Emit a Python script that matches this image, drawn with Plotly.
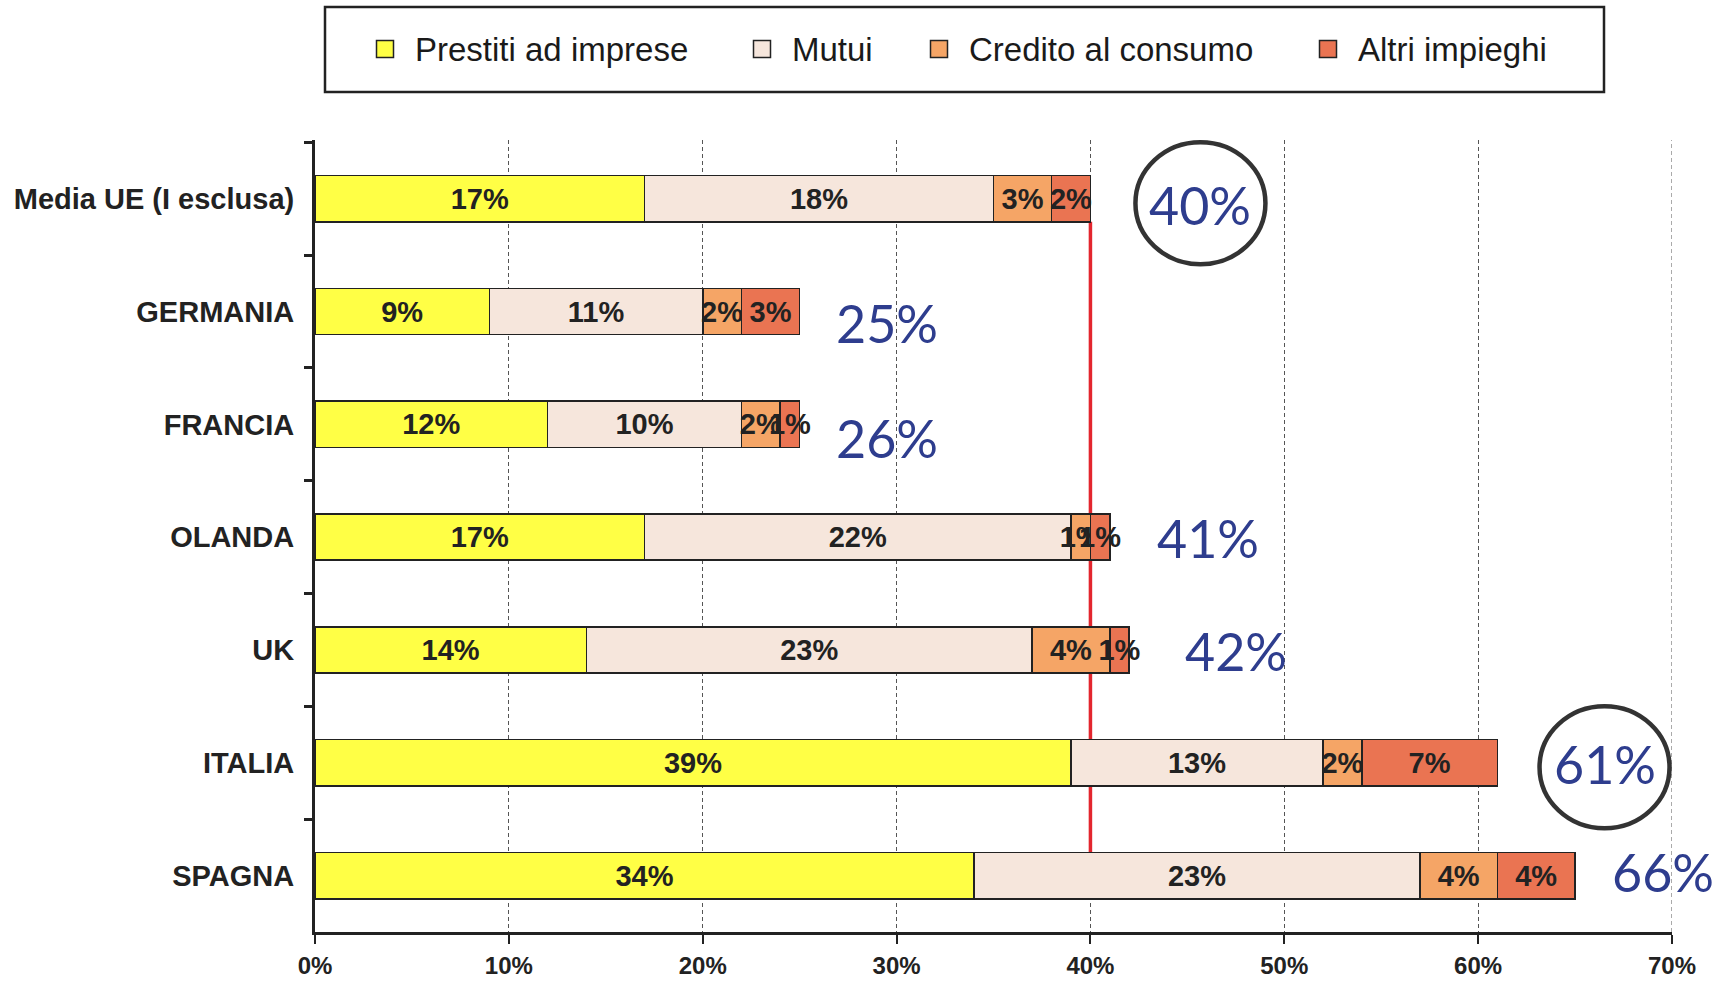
import plotly.graph_objects as go

# --- data -------------------------------------------------------------
categories = ["Media UE (I esclusa)", "GERMANIA", "FRANCIA", "OLANDA", "UK", "ITALIA", "SPAGNA"]
series_names = ["Prestiti ad imprese", "Mutui", "Credito al consumo", "Altri impieghi"]

prestiti_imprese = [17, 9, 12, 17, 14, 39, 34]
mutui = [18, 11, 10, 22, 23, 13, 23]
credito_consumo = [3, 2, 2, 1, 4, 2, 4]
altri_impieghi = [2, 3, 1, 1, 1, 7, 4]

totali = [40, 25, 26, 41, 42, 61, 66]
circled = ["Media UE (I esclusa)", "ITALIA"]

x_ticks = [0, 10, 20, 30, 40, 50, 60, 70]

# --- styling ----------------------------------------------------------
W, H = 1729, 983
ML, MR, MT, MB = 315, 57, 140, 51
PW, PH = W - ML - MR, H - MT - MB

colors = ["#FFFF45", "#F6E6DC", "#F5A566", "#EA7452"]
dark = "#222222"
blue = "#2E3D8E"
bold_font = "Liberation Sans, Arial, sans-serif"

# pixel gap between bar end and the total label, and vertical nudges
total_gap = [57, 34, 34, 45, 54, 54, 35]
total_dy = [-6, -11, -14, -1, -1, -1, 4]


def px_x(px):
    return (px - ML) / PW


def px_y(py):
    return (H - MB - py) / PH


series = [prestiti_imprese, mutui, credito_consumo, altri_impieghi]

fig = go.Figure()
for name, vals, col in zip(series_names, series, colors):
    fig.add_trace(go.Bar(
        y=categories, x=vals, name=name, orientation="h", width=0.41,
        marker=dict(color=col, line=dict(color=dark, width=1.6)),
        text=[f"{v}%" for v in vals], textposition="inside",
        insidetextanchor="middle", textangle=0, constraintext="none",
        textfont=dict(family=bold_font, size=29, color=dark, weight="bold"),
        showlegend=False,
        hovertemplate="%{y}<br>" + name + ": %{x}%<extra></extra>",
    ))

shapes = []
annotations = []

# dashed gridline on the right edge of the value axis
shapes.append(dict(type="line", xref="x", yref="paper",
                   x0=x_ticks[-1], x1=x_ticks[-1], y0=0, y1=1,
                   line=dict(color="#555555", width=1, dash="4px,3px"), layer="between"))

# reference line at the EU average total
half = 0.41 / 2
shapes.append(dict(type="line", xref="x", yref="y",
                   x0=totali[0], x1=totali[0], y0=0 + half, y1=len(categories) - 1 - half,
                   line=dict(color="#E3262E", width=3.5), layer="between"))

# totals at the end of each bar
for i, (cat, tot) in enumerate(zip(categories, totali)):
    bar_end = prestiti_imprese[i] + mutui[i] + credito_consumo[i] + altri_impieghi[i]
    annotations.append(dict(
        x=bar_end, y=cat, xref="x", yref="y", text=f"{tot}%", showarrow=False,
        xanchor="left", yanchor="middle", xshift=total_gap[i], yshift=total_dy[i],
        font=dict(family="Lato, Noto Sans, sans-serif", size=52, color=blue),
    ))
    if cat in circled:
        cx = total_gap[i] + 53
        shapes.append(dict(
            type="circle", xref="x", yref="y", xsizemode="pixel", ysizemode="pixel",
            xanchor=bar_end, yanchor=i + 0.04,
            x0=cx - 65, x1=cx + 65, y0=-61, y1=61,
            line=dict(color="#333333", width=4.5), layer="above",
        ))

# legend box
shapes.append(dict(type="rect", xref="paper", yref="paper",
                   x0=px_x(325), x1=px_x(1604), y0=px_y(92), y1=px_y(7),
                   line=dict(color=dark, width=2.5), fillcolor="white", layer="above"))
legend_marker_x = [385, 762, 939, 1328]
legend_y = 49
for name, col, mx in zip(series_names, colors, legend_marker_x):
    shapes.append(dict(type="rect", xref="paper", yref="paper",
                       x0=px_x(mx - 8.5), x1=px_x(mx + 8.5),
                       y0=px_y(legend_y + 8.5), y1=px_y(legend_y - 8.5),
                       line=dict(color=dark, width=1.5), fillcolor=col, layer="above"))
    annotations.append(dict(
        x=px_x(mx + 28), y=px_y(legend_y), xref="paper", yref="paper", text=name,
        showarrow=False, xanchor="left", yanchor="middle",
        font=dict(family="Liberation Sans, Arial, sans-serif", size=33, color="#1a1a1a"),
    ))

fig.update_layout(
    width=W, height=H, barmode="stack", bargap=0.59,
    margin=dict(l=ML, r=MR, t=MT, b=MB, pad=0, autoexpand=False),
    paper_bgcolor="white", plot_bgcolor="white",
    shapes=shapes, annotations=annotations, showlegend=False,
    xaxis=dict(
        range=[0, 70], tickvals=x_ticks, ticktext=[f"{v}%" for v in x_ticks],
        showgrid=True, gridcolor="#555555", gridwidth=1, griddash="4px,3px",
        showline=True, linewidth=3, linecolor=dark, zeroline=False,
        ticks="outside", ticklen=9, tickwidth=2, tickcolor=dark,
        ticklabelstandoff=1, automargin=False,
        tickfont=dict(family=bold_font, size=24, color=dark, weight="bold"),
    ),
    yaxis=dict(
        type="category", categoryorder="array", categoryarray=categories,
        autorange="reversed", showgrid=False, zeroline=False,
        showline=True, linewidth=3, linecolor=dark,
        ticks="outside", tickson="boundaries", ticklen=8, tickwidth=3, tickcolor=dark,
        ticklabelstandoff=12, automargin=False,
        tickfont=dict(family=bold_font, size=29, color=dark, weight="bold"),
    ),
)

fig.write_html("out.html")
